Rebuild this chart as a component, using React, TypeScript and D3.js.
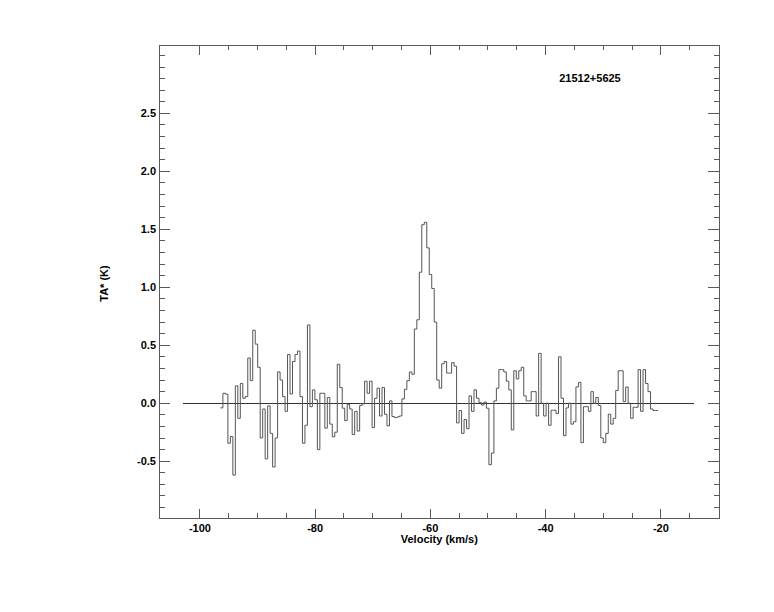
import React from 'react';
import * as d3 from 'd3';

const TITLE = '21512+5625';
const X_LABEL = 'Velocity (km/s)';
const Y_LABEL = 'TA* (K)';

const X_DOMAIN = [-107.1, -9.8];
const Y_DOMAIN = [-0.99, 3.09];

const X_MAJOR = [-100, -80, -60, -40, -20];
const X_MINOR = [-95, -90, -85, -75, -70, -65, -55, -50, -45, -35, -30, -25, -15];
const Y_MAJOR = [-0.5, 0.0, 0.5, 1.0, 1.5, 2.0, 2.5];
const Y_MINOR = [
  -0.9, -0.8, -0.7, -0.6, -0.4, -0.3, -0.2, -0.1, 0.1, 0.2, 0.3, 0.4, 0.6, 0.7, 0.8, 0.9,
  1.1, 1.2, 1.3, 1.4, 1.6, 1.7, 1.8, 1.9, 2.1, 2.2, 2.3, 2.4, 2.6, 2.7, 2.8, 2.9, 3.0,
];

// zero baseline extent (km/s)
const BASELINE = [-102.9, -14.2];

// spectrum channel grid
const V_START = -96.44;
const CHANNEL_WIDTH = 0.4315;

// antenna temperature per channel (K)
const TA = [
  -0.04, 0.086, 0.078, -0.345, -0.287, -0.62, 0.15, -0.13, 0.17, 0.043,
  0.057, 0.39, 0.195, 0.63, 0.51, 0.31, -0.3, -0.05, -0.48, -0.023,
  -0.26, -0.55, -0.3, 0.27, 0.2, 0.057, -0.07, 0.42, 0.08, 0.36,
  0.42, 0.45, 0.057, -0.345, -0.19, 0.675, -0.03, 0.115, 0.03, -0.4,
  0.086, 0.086, -0.215, 0.05, -0.18, -0.29, -0.25, 0.336, 0.135, -0.043,
  -0.15, -0.01, -0.05, -0.27, -0.07, -0.24, -0.02, -0.005, 0.19, 0.086,
  0.19, -0.21, 0.043, 0.13, -0.11, 0.135, -0.095, -0.195, 0.02, -0.115,
  -0.124, -0.118, -0.11, 0.037, 0.12, 0.195, 0.27, 0.25, 0.64, 0.72,
  1.13, 1.54, 1.56, 1.34, 1.11, 0.99, 0.7, 0.2, 0.13, 0.34,
  0.36, 0.26, 0.26, 0.35, 0.32, -0.17, -0.063, -0.26, -0.14, -0.22,
  0.063, -0.07, 0.115, 0.043, 0.005, -0.015, 0.01, -0.043, -0.53, -0.43,
  0.02, 0.13, 0.29, 0.29, 0.27, 0.19, 0.115, -0.23, 0.28, 0.21,
  0.28, 0.31, 0.063, 0.02, 0.02, 0.1, 0.1, -0.11, 0.43, 0.0,
  -0.11, 0.0, -0.19, -0.06, -0.06, -0.09, 0.4, 0.043, -0.28, -0.04,
  0.0, -0.18, -0.16, 0.14, 0.18, -0.34, -0.03, -0.03, -0.07, 0.1,
  0.0, 0.05, -0.02, -0.3, -0.34, -0.26, -0.095, -0.18, -0.13, 0.11,
  0.28, 0.28, 0.014, 0.14, 0.0, -0.13, -0.035, -0.035, 0.29, -0.07,
  0.29, 0.17, 0.1, -0.05, -0.063, -0.063,
];

const W = 774;
const H = 612;
const PLOT = { left: 159, right: 719.6, top: 45, bottom: 518 };
const FONT = '"Liberation Sans", Arial, Helvetica, sans-serif';

export default function App() {
  const x = d3.scaleLinear().domain(X_DOMAIN).range([PLOT.left, PLOT.right]);
  const y = d3.scaleLinear().domain(Y_DOMAIN).range([PLOT.bottom, PLOT.top]);

  const pts: [number, number][] = TA.map((t, i) => [V_START + i * CHANNEL_WIDTH, t]);
  pts.push([V_START + TA.length * CHANNEL_WIDTH, TA[TA.length - 1]]);
  const line = d3
    .line<[number, number]>()
    .x((d) => x(d[0]))
    .y((d) => y(d[1]))
    .curve(d3.curveStepAfter);

  const axisColor = '#5a5a5a';
  const xMajLen = 9.5;
  const xMinLen = 4.7;
  const yMajLen = 11.2;
  const yMinLen = 5.6;

  return (
    <svg
      width={W}
      height={H}
      style={{ position: 'fixed', left: 0, top: 0, background: '#fff' }}
      fontFamily={FONT}
    >
      <rect x={0} y={0} width={W} height={H} fill="#fff" />
      {/* frame */}
      <rect
        x={PLOT.left}
        y={PLOT.top}
        width={PLOT.right - PLOT.left}
        height={PLOT.bottom - PLOT.top}
        fill="none"
        stroke={axisColor}
        strokeWidth={1}
        shapeRendering="crispEdges"
      />
      <g stroke={axisColor} strokeWidth={1} shapeRendering="crispEdges">
        {X_MAJOR.map((v) => (
          <g key={'xM' + v}>
            <line x1={x(v)} x2={x(v)} y1={PLOT.bottom} y2={PLOT.bottom - xMajLen} />
            <line x1={x(v)} x2={x(v)} y1={PLOT.top} y2={PLOT.top + xMajLen} />
          </g>
        ))}
        {X_MINOR.map((v) => (
          <g key={'xm' + v}>
            <line x1={x(v)} x2={x(v)} y1={PLOT.bottom} y2={PLOT.bottom - xMinLen} />
            <line x1={x(v)} x2={x(v)} y1={PLOT.top} y2={PLOT.top + xMinLen} />
          </g>
        ))}
        {Y_MAJOR.map((v) => (
          <g key={'yM' + v}>
            <line x1={PLOT.left} x2={PLOT.left + yMajLen} y1={y(v)} y2={y(v)} />
            <line x1={PLOT.right} x2={PLOT.right - yMajLen} y1={y(v)} y2={y(v)} />
          </g>
        ))}
        {Y_MINOR.map((v) => (
          <g key={'ym' + v}>
            <line x1={PLOT.left} x2={PLOT.left + yMinLen} y1={y(v)} y2={y(v)} />
            <line x1={PLOT.right} x2={PLOT.right - yMinLen} y1={y(v)} y2={y(v)} />
          </g>
        ))}
      </g>
      {/* zero baseline */}
      <line
        x1={x(BASELINE[0])}
        x2={x(BASELINE[1])}
        y1={y(0)}
        y2={y(0)}
        stroke="#333"
        strokeWidth={1}
        shapeRendering="crispEdges"
      />
      {/* spectrum */}
      <path d={line(pts) || ''} fill="none" stroke="#555" strokeWidth={1} />
      {/* tick labels */}
      <g fontSize={11} fontWeight="bold" fill="#000">
        {X_MAJOR.map((v) => (
          <text key={'xl' + v} x={x(v)} y={532} textAnchor="middle">
            {String(v)}
          </text>
        ))}
        {Y_MAJOR.map((v) => (
          <text key={'yl' + v} x={PLOT.left - 3} y={y(v) + 4} textAnchor="end">
            {v.toFixed(1)}
          </text>
        ))}
        <text x={(PLOT.left + PLOT.right) / 2} y={543} textAnchor="middle">
          {X_LABEL}
        </text>
        <text
          transform={`translate(108, ${(PLOT.top + PLOT.bottom) / 2 + 2}) rotate(-90)`}
          textAnchor="middle"
        >
          {Y_LABEL}
        </text>
        <text x={590} y={82} textAnchor="middle">
          {TITLE}
        </text>
      </g>
    </svg>
  );
}
